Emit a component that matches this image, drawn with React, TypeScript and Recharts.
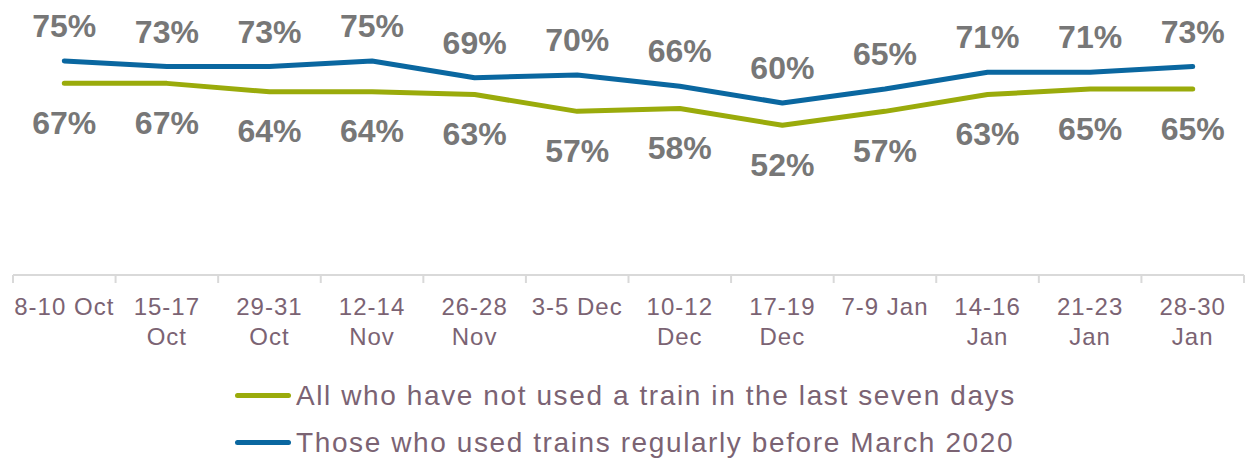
import React from "react";
import { LineChart, Line, XAxis, YAxis, LabelList, Legend } from "recharts";

const categories = [
  "8-10 Oct",
  "15-17\nOct",
  "29-31\nOct",
  "12-14\nNov",
  "26-28\nNov",
  "3-5 Dec",
  "10-12\nDec",
  "17-19\nDec",
  "7-9 Jan",
  "14-16\nJan",
  "21-23\nJan",
  "28-30\nJan",
];

const regularUsers = [75, 73, 73, 75, 69, 70, 66, 60, 65, 71, 71, 73];
const notUsedTrain = [67, 67, 64, 64, 63, 57, 58, 52, 57, 63, 65, 65];

const seriesNames = {
  green: "All who have not used a train in the last seven days",
  blue: "Those who used trains regularly before March 2020",
};

const GREEN = "#9aab0b";
const BLUE = "#0a67a0";
const LABEL_GREY = "#777777";
const AXIS_TEXT = "#7b6373";
const AXIS_LINE = "#d9d9d9";
const FONT = "'Liberation Sans', Arial, sans-serif";

const data = categories.map((cat, i) => ({
  i,
  cat,
  blue: regularUsers[i],
  green: notUsedTrain[i],
}));

const centerTicks = categories.map((_, i) => i);
const boundaryTicks = categories.map((_, i) => i - 0.5).concat(categories.length - 0.5);
const xDomain = [-0.5, categories.length - 0.5];

const EmptyTick = () => <g />;

const CategoryTick = (props: any) => {
  const { x, y, payload } = props;
  const label = categories[payload.value] ?? "";
  const lines = label.split("\n");
  return (
    <text
      x={x}
      y={y}
      textAnchor="middle"
      fill={AXIS_TEXT}
      fontSize={24}
      fontFamily={FONT}
      letterSpacing={1}
    >
      {lines.map((ln, k) => (
        <tspan key={k} x={x} dy={k === 0 ? 39 : 30}>
          {ln}
        </tspan>
      ))}
    </text>
  );
};

const LegendContent = (props: any) => {
  const payload = props.payload || [];
  return (
    <div style={{ paddingLeft: 235, fontFamily: FONT }}>
      {payload.map((p: any) => (
        <div
          key={p.value}
          style={{ display: "flex", alignItems: "center", height: 47 }}
        >
          <span
            style={{
              display: "inline-block",
              width: 56,
              height: 5,
              borderRadius: 3,
              background: p.color,
              marginRight: 5,
            }}
          />
          <span
            style={{
              fontSize: 28,
              lineHeight: "47px",
              color: AXIS_TEXT,
              letterSpacing: 1.6,
              whiteSpace: "nowrap",
            }}
          >
            {p.value}
          </span>
        </div>
      ))}
    </div>
  );
};

const pct = (v: any) => `${v}%`;

export default function App() {
  return (
    <div style={{ position: "absolute", left: 0, top: 0, width: 1250, height: 462, background: "#fff" }}>
      <LineChart
        width={1250}
        height={462}
        data={data}
        margin={{ top: 47, right: 6, left: 13, bottom: 106 }}
        style={{ fontFamily: FONT }}
      >
        <XAxis
          xAxisId="grid"
          dataKey="i"
          type="number"
          domain={xDomain}
          ticks={boundaryTicks}
          interval={0}
          tick={<EmptyTick />}
          tickSize={8}
          tickLine={{ stroke: AXIS_LINE, strokeWidth: 2 }}
          axisLine={{ stroke: AXIS_LINE, strokeWidth: 2 }}
          height={1}
        />
        <XAxis
          xAxisId="lab"
          dataKey="i"
          type="number"
          domain={xDomain}
          ticks={centerTicks}
          interval={0}
          tick={<CategoryTick />}
          tickSize={0}
          tickMargin={0}
          tickLine={false}
          axisLine={false}
          height={80}
        />
        <YAxis hide type="number" domain={[-1.5, 80]} allowDataOverflow />
        <Legend
          layout="vertical"
          align="center"
          verticalAlign="middle"
          wrapperStyle={{ top: 372, left: 0, width: 1250 }}
          content={<LegendContent />}
        />
        <Line
          xAxisId="grid"
          dataKey="green"
          name={seriesNames.green}
          stroke={GREEN}
          strokeWidth={5}
          strokeLinecap="round"
          strokeLinejoin="round"
          dot={false}
          activeDot={false}
          isAnimationActive={false}
        >
          <LabelList
            dataKey="green"
            position="bottom"
            offset={28}
            formatter={pct}
            fill={LABEL_GREY}
            stroke="none"
            fontSize={32}
            fontWeight="bold"
            fontFamily={FONT}
          />
        </Line>
        <Line
          xAxisId="grid"
          dataKey="blue"
          name={seriesNames.blue}
          stroke={BLUE}
          strokeWidth={5}
          strokeLinecap="round"
          strokeLinejoin="round"
          dot={false}
          activeDot={false}
          isAnimationActive={false}
        >
          <LabelList
            dataKey="blue"
            position="top"
            offset={24}
            formatter={pct}
            fill={LABEL_GREY}
            stroke="none"
            fontSize={32}
            fontWeight="bold"
            fontFamily={FONT}
          />
        </Line>
      </LineChart>
    </div>
  );
}
